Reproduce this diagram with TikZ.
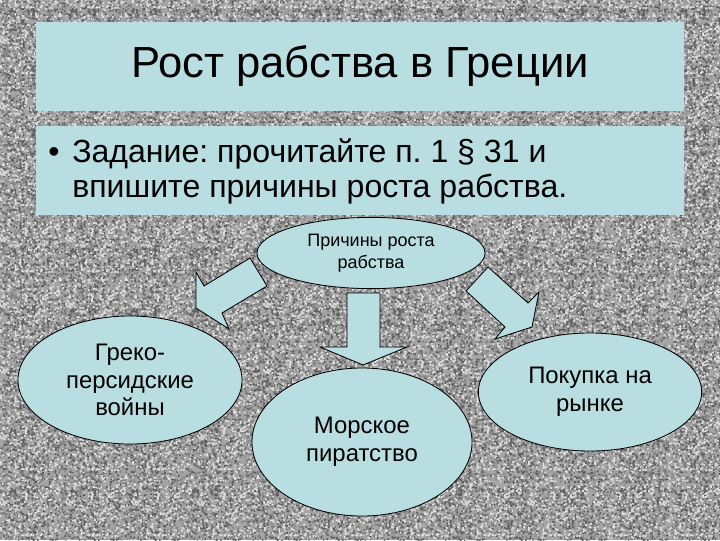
\documentclass[tikz,border=0pt]{standalone}
\usepackage{fontspec}
\setmainfont{Liberation Sans}
\frenchspacing
\usetikzlibrary{shapes.geometric}
\usetikzlibrary{patterns}
\definecolor{boxfill}{RGB}{185,222,225}
\definecolor{granite}{RGB}{165,165,165}
\definecolor{granitedark}{RGB}{95,95,95}
\definecolor{granitemid}{RGB}{130,130,130}
\definecolor{granitelight}{RGB}{222,222,222}

% random speckle tiles for the granite background
\pgfmathsetseed{7}
\newcommand{\specktile}[2]{%
  \pgfdeclarepatternformonly{#1}{\pgfpointorigin}{\pgfpoint{#2pt}{#2pt}}{\pgfpoint{#2pt}{#2pt}}{%
    \foreach \i in {1,...,280}{%
      \pgfmathsetmacro\px{rnd*(#2-1.2)}\pgfmathsetmacro\py{rnd*(#2-1.2)}%
      \pgfpathrectangle{\pgfpoint{\px pt}{\py pt}}{\pgfpoint{1.2pt}{1.2pt}}}%
    \pgfusepath{fill}}}
\specktile{speckA}{40}
\specktile{speckB}{43}
\specktile{speckC}{47}

\begin{document}
\begin{tikzpicture}[x=0.025cm,y=-0.025cm,
    cause/.style={ellipse,draw=black,line width=0.6pt,fill=boxfill,
      align=center,inner sep=0pt,font=\fontsize{17}{19.6}\selectfont},
    blockarrow/.style={draw=black,line width=0.6pt,fill=boxfill,line join=miter}]
      % granite background
      \useasboundingbox (0,0) rectangle (720,540);
      \fill[granite] (0,0) rectangle (720,540);
      \fill[pattern=speckA,pattern color=granitemid] (0,0) rectangle (720,540);
      \fill[pattern=speckB,pattern color=granitedark] (0,0) rectangle (720,540);
      \fill[pattern=speckC,pattern color=granitelight] (0,0) rectangle (720,540);
      % title and task
      \fill[boxfill] (36,22) rectangle (684,111);
      \node (title) at (360,66) {\fontsize{31}{36}\selectfont Рост рабства в Греции};
      \fill[boxfill] (36,126) rectangle (684,215);
      \node[anchor=base] (dot) at (54,162) {\fontsize{22.8}{27}\selectfont •};
      \node[anchor=base west,inner sep=0pt] (task1) at (72,162)
        {\fontsize{22.8}{27}\selectfont Задание: прочитайте п. 1 § 31 и};
      \node[anchor=base west,inner sep=0pt] (task2) at (72,197)
        {\fontsize{22.8}{27}\selectfont впишите причины роста рабства.};
      % ellipses
      \node[cause,minimum width=5.7cm,minimum height=1.78cm,
        font=\fontsize{12.8}{15.6}\selectfont] (why) at (371,253) {Причины роста\\рабства};
      \node[cause,minimum width=5.6cm,minimum height=3.2cm] (war) at (130,380)
        {Греко-\\персидские\\войны};
      \node[cause,minimum width=5.5cm,minimum height=3.7cm] (pirate) at (362,442)
        {Морское\\пиратство};
      \node[cause,minimum width=5.58cm,minimum height=2.95cm] (market) at (590,392)
        {Покупка на\\рынке};
      % block arrows
      \draw[blockarrow] (250,258) -- (267,286) -- (222,313) -- (229,329)
        -- (196,308) -- (196,272) -- (204,286) -- cycle;
      \draw[blockarrow] (347,293) -- (380,293) -- (380,347) -- (407,347)
        -- (363,365) -- (320,347) -- (347,347) -- cycle;
      \draw[blockarrow] (488,267) -- (528,303) -- (539,292) -- (532,327)
        -- (495,339) -- (505,327) -- (466,291) -- cycle;
\end{tikzpicture}
\end{document}
